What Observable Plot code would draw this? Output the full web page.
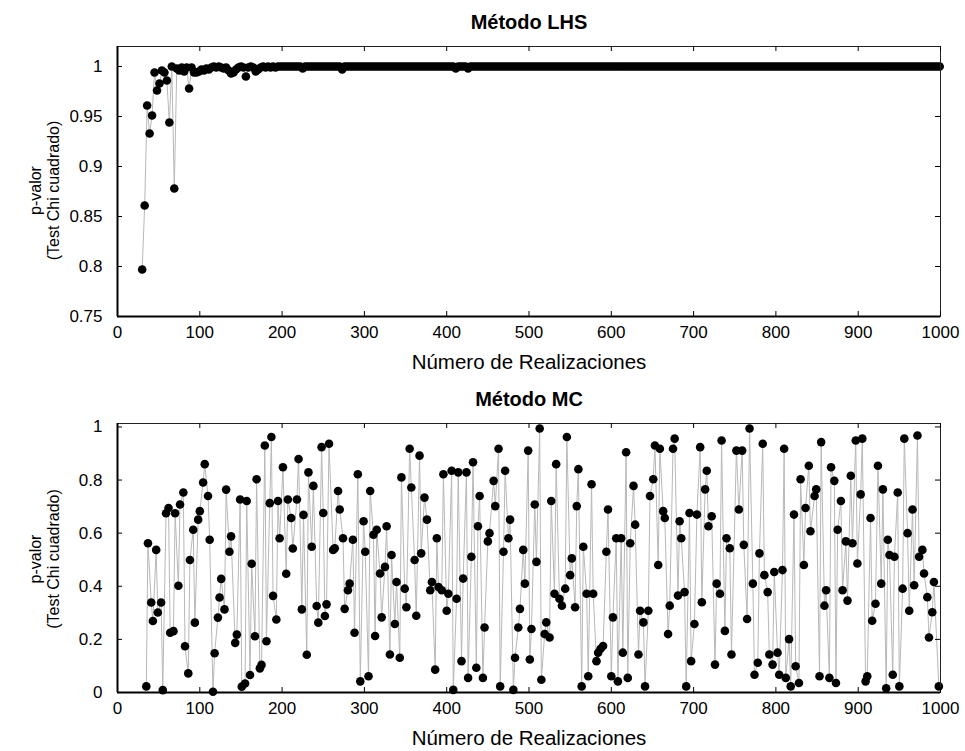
<!DOCTYPE html>
<html><head><meta charset="utf-8">
<script src="https://cdn.jsdelivr.net/npm/d3@7"></script>
<script src="https://cdn.jsdelivr.net/npm/@observablehq/plot@0.6"></script>
<style>
body{margin:0;background:#fff;}
#wrap{position:relative;width:965px;height:751px;background:#fff;overflow:hidden;}
#wrap svg{position:absolute;left:0;}
</style></head><body><div id="wrap"></div>
<script>
const xTicks = [0,100,200,300,400,500,600,700,800,900,1000];
const lhsYTicks = [0.75,0.8,0.85,0.9,0.95,1];
const mcYTicks = [0,0.2,0.4,0.6,0.8,1];
const titles = ["Método LHS", "Método MC"];
const xLabel = "Número de Realizaciones";
const yLabel = "p-valor\n(Test Chi cuadrado)";

const lhsX = [
30,33,36,39,42,45,48,51,54,57,60,63,66,69,72,75,78,81,84,87,
90,93,96,99,102,105,108,111,114,117,120,123,126,129,132,135,138,141,144,147,
150,153,156,159,162,165,168,171,174,177,180,183,186,189,192,195,198,201,204,207,
210,213,216,219,222,225,228,231,234,237,240,243,246,249,252,255,258,261,264,267,
270,273,276,279,282,285,288,291,294,297,300,303,306,309,312,315,318,321,324,327,
330,333,336,339,342,345,348,351,354,357,360,363,366,369,372,375,378,381,384,387,
390,393,396,399,402,405,408,411,414,417,420,423,426,429,432,435,438,441,444,447,
450,453,456,459,462,465,468,471,474,477,480,483,486,489,492,495,498,501,504,507,
510,513,516,519,522,525,528,531,534,537,540,543,546,549,552,555,558,561,564,567,
570,573,576,579,582,585,588,591,594,597,600,603,606,609,612,615,618,621,624,627,
630,633,636,639,642,645,648,651,654,657,660,663,666,669,672,675,678,681,684,687,
690,693,696,699,702,705,708,711,714,717,720,723,726,729,732,735,738,741,744,747,
750,753,756,759,762,765,768,771,774,777,780,783,786,789,792,795,798,801,804,807,
810,813,816,819,822,825,828,831,834,837,840,843,846,849,852,855,858,861,864,867,
870,873,876,879,882,885,888,891,894,897,900,903,906,909,912,915,918,921,924,927,
930,933,936,939,942,945,948,951,954,957,960,963,966,969,972,975,978,981,984,987,
990,993,996,999];
const lhsY = [
.797,.861,.961,.933,.951,.994,.976,.983,.996,.994,.986,.944,1,.878,.998,.996,.999,.995,.999,.978,
.999,.994,.994,.995,.997,.996,.998,.997,.999,1,.999,1,.999,.998,.999,.996,.993,.994,.997,.999,
1,.999,.990,.999,1,.999,.995,.997,.999,1,.999,1,.999,1,.999,1,1,1,1,1,
1,1,1,1,1,.998,1,1,1,1,1,1,1,1,1,1,1,1,1,1,
1,.997,1,1,1,1,1,1,1,1,1,1,1,1,1,1,1,1,1,1,
1,1,1,1,1,1,1,1,1,1,1,1,1,1,1,1,1,1,1,1,
1,1,1,1,1,1,1,.998,1,1,1,1,.998,1,1,1,1,1,1,1,
1,1,1,1,1,1,1,1,1,1,1,1,1,1,1,1,1,1,1,1,
1,1,1,1,1,1,1,1,1,1,1,1,1,1,1,1,1,1,1,1,
1,1,1,1,1,1,1,1,1,1,1,1,1,1,1,1,1,1,1,1,
1,1,1,1,1,1,1,1,1,1,1,1,1,1,1,1,1,1,1,1,
1,1,1,1,1,1,1,1,1,1,1,1,1,1,1,1,1,1,1,1,
1,1,1,1,1,1,1,1,1,1,1,1,1,1,1,1,1,1,1,1,
1,1,1,1,1,1,1,1,1,1,1,1,1,1,1,1,1,1,1,1,
1,1,1,1,1,1,1,1,1,1,1,1,1,1,1,1,1,1,1,1,
1,1,1,1,1,1,1,1,1,1,1,1,1,1,1,1,1,1,1,1,
1,1,1,1];

const mcX = [
35,37,41,43,47,49,53,55,59,62,64,68,70,74,76,80,82,86,88,92,
94,98,100,104,106,110,112,116,118,122,124,126,130,132,136,138,143,145,149,151,
155,157,161,163,167,169,173,175,179,181,185,187,189,193,195,197,201,205,207,211,
213,218,220,224,226,230,232,236,238,242,244,248,250,252,254,257,
262,264,268,270,274,276,280,282,286,288,292,295,299,301,305,307,311,313,315,319,
321,325,327,331,333,337,339,343,345,349,351,355,357,361,363,367,369,373,376,380,
382,386,388,390,394,396,400,402,406,408,412,414,418,420,424,426,430,432,436,438,
440,444,446,450,452,457,459,463,465,469,471,475,477,481,483,487,489,493,495,499,
501,503,
507,509,513,515,519,521,525,527,531,533,537,540,544,546,550,552,556,558,560,564,
566,570,572,576,578,582,584,587,590,594,596,600,602,606,608,612,614,618,620,623,
627,629,633,635,639,641,645,647,651,653,657,659,663,665,669,671,675,677,681,683,
685,689,691,695,697,701,704,708,710,714,716,718,722,726,728,732,734,738,740,744,
746,752,755,759,
761,765,768,772,774,778,780,784,786,790,792,796,798,802,804,808,810,812,816,818,
822,824,828,830,834,836,840,842,847,849,853,855,859,861,865,867,871,873,875,879,
881,885,887,891,893,897,899,903,905,909,911,915,917,921,924,928,930,934,936,938,
942,944,948,950,954,956,960,962,966,968,972,974,978,980,984,986,990,992,998];
const mcY = [
.023,.562,.339,.269,.537,.301,.339,.009,.675,.695,.225,.231,.675,.402,.708,.753,.174,.072,.499,.613,
.263,.651,.683,.791,.860,.740,.575,.003,.148,.282,.358,.428,.313,.764,.530,.588,.187,.218,.727,.022,
.034,.721,.066,.485,.212,.803,.091,.104,.930,.193,.713,.962,.364,.275,.721,.581,.848,.447,.727,.657,
.542,.727,.879,.313,.669,.142,.829,.549,.778,.326,.263,.924,.676,.288,.332,.937,
.537,.543,.759,.689,.581,.315,.385,.410,.575,.225,.822,.042,.645,.530,.061,.759,.594,.213,.613,.448,
.283,.473,.626,.143,.518,.258,.416,.131,.810,.391,.321,.918,.772,.499,.289,.892,.524,.734,.651,.385,
.416,.086,.581,.397,.385,.822,.308,.372,.835,.010,.353,.829,.118,.429,.829,.055,.511,.867,.093,.626,
.740,.055,.245,.569,.600,.797,.702,.918,.023,.530,.835,.581,.651,.010,.131,.245,.315,.537,.410,.911,
.124,.239,
.708,.492,.994,.048,.220,.264,.207,.721,.372,.860,.353,.327,.391,.962,.442,.505,.321,.702,.841,.023,
.549,.372,.061,.784,.372,.118,.150,.165,.175,.530,.689,.061,.283,.581,.042,.581,.150,.905,.055,.562,
.778,.632,.143,.308,.264,.023,.308,.740,.803,.930,.480,.918,.683,.657,.220,.327,.918,.956,.365,.645,
.581,.378,.023,.676,.118,.258,.670,.924,.340,.765,.835,.626,.664,.105,.410,.372,.949,.232,.581,.543,
.143,.911,.689,.911,
.556,.277,.994,.410,.067,.112,.524,.937,.442,.378,.143,.105,.454,.150,.067,.461,.918,.055,.201,.023,
.670,.099,.036,.803,.480,.695,.854,.607,.740,.765,.061,.943,.327,.385,.055,.848,.797,.036,.613,.721,
.385,.569,.346,.816,.562,.949,.486,.746,.956,.042,.061,.657,.270,.334,.854,.410,.765,.016,.575,.518,
.067,.511,.753,.023,.391,.956,.600,.308,.689,.404,.968,.511,.537,.448,.359,.207,.302,.416,.023];

const FONT = "'Liberation Sans', Arial, Helvetica, sans-serif";
const W = 965, ML = 117, MR = 25;

function panel({xs, ys, yDomain, yTicks, title, top, height, mt, mb, labelDy}) {
  const data = xs.map((x, i) => ({x, y: ys[i]}));
  const fw = W - ML - MR, fh = height - mt - mb;
  const fmt = d => String(+d.toFixed(2));
  const svg = Plot.plot({
    width: W, height,
    marginLeft: ML, marginRight: MR, marginTop: mt, marginBottom: mb,
    style: {fontFamily: FONT, fontSize: "17px", color: "#000", background: "#fff", overflow: "visible"},
    x: {domain: [xTicks[0], xTicks[xTicks.length - 1]]},
    y: {domain: yDomain},
    marks: [
      Plot.line(data, {x: "x", y: "y", stroke: "#b8b8b8", strokeWidth: 1}),
      Plot.dot(data, {x: "x", y: "y", r: 4.3, fill: "#000", stroke: "none"}),
      Plot.frame({stroke: "#222", strokeWidth: 1}),
      Plot.ruleX([xTicks[0]], {stroke: "#000", strokeWidth: 2}),
      Plot.ruleY([yDomain[0]], {stroke: "#000", strokeWidth: 2}),
      Plot.tickX(xTicks, {x: d => d, insetTop: fh - 5, stroke: "#000"}),
      Plot.tickX(xTicks, {x: d => d, insetBottom: fh - 5, stroke: "#000"}),
      Plot.tickY(yTicks, {y: d => d, insetRight: fw - 5, stroke: "#000"}),
      Plot.tickY(yTicks, {y: d => d, insetLeft: fw - 5, stroke: "#000"}),
      Plot.axisX(xTicks, {tickSize: 0, tickPadding: 9, label: null, tickFormat: d => String(d), fontSize: 17}),
      Plot.axisY(yTicks, {tickSize: 0, tickPadding: 15, label: null, tickFormat: fmt, fontSize: 17}),
      Plot.text([title], {text: d => d, frameAnchor: "top", lineAnchor: "middle", textAnchor: "middle", dy: -24, fontWeight: "bold", fontSize: 20}),
      Plot.text([xLabel], {text: d => d, frameAnchor: "bottom", lineAnchor: "middle", textAnchor: "middle", dy: 46, fontSize: 20.5}),
      Plot.text([yLabel], {text: d => d, frameAnchor: "left", lineAnchor: "middle", textAnchor: "middle", dx: -73.5, dy: labelDy, rotate: -90, lineHeight: 1.17, fontSize: 16})
    ]
  });
  svg.style.top = top + "px";
  document.getElementById("wrap").append(svg);
}

panel({xs: lhsX, ys: lhsY, yDomain: [0.75, 1.02], yTicks: lhsYTicks, title: titles[0], top: 0, height: 375, mt: 46, mb: 59, labelDy: 9});
panel({xs: mcX, ys: mcY, yDomain: [0, 1.013], yTicks: mcYTicks, title: titles[1], top: 375, height: 376, mt: 48, mb: 59, labelDy: 1});
</script></body></html>
